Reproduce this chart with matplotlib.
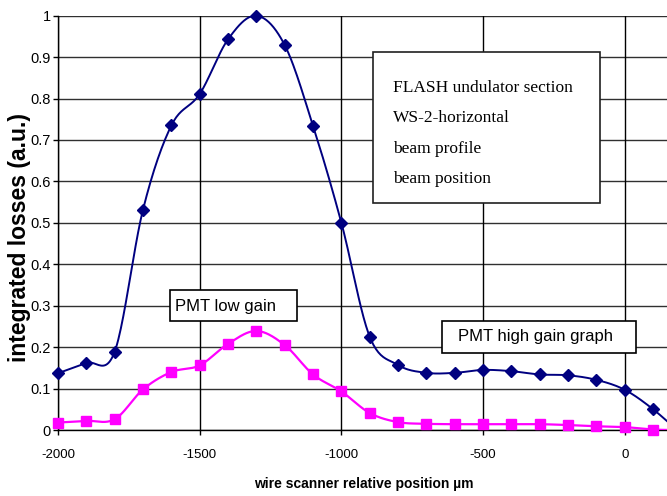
import numpy as np
import matplotlib
matplotlib.use("Agg")
import matplotlib.pyplot as plt
from matplotlib.patches import Rectangle

# scan positions (µm) and integrated losses (a.u.)
position = [-2000, -1900, -1800, -1700, -1600, -1500, -1400, -1300, -1200, -1100,
            -1000, -900, -800, -700, -600, -500, -400, -300, -200, -100, 0, 100, 200]
high_gain = [0.137, 0.162, 0.189, 0.532, 0.735, 0.811, 0.943, 1.000, 0.929, 0.734,
             0.500, 0.225, 0.157, 0.138, 0.138, 0.145, 0.142, 0.134, 0.132, 0.121,
             0.097, 0.050, -0.010]
low_gain = [0.018, 0.022, 0.026, 0.098, 0.140, 0.156, 0.208, 0.239, 0.205, 0.134,
            0.093, 0.041, 0.019, 0.015, 0.014, 0.014, 0.014, 0.014, 0.012, 0.009,
            0.007, 0.001, 0.000]

x_ticks = [-2000, -1500, -1000, -500, 0]
x_tick_labels = ["-2000", "-1500", "-1000", "-500", "0"]
y_ticks = [0, 0.1, 0.2, 0.3, 0.4, 0.5, 0.6, 0.7, 0.8, 0.9, 1.0]
y_tick_labels = ["0", "0.1", "0.2", "0.3", "0.4", "0.5", "0.6", "0.7", "0.8", "0.9", "1"]

info_lines = ["FLASH undulator section", "WS-2-horizontal", "beam profile", "beam position"]

W, H = 667, 496
sans = ["Liberation Sans"]


def smooth(xs, ys, n=24):
    """Cardinal (Excel-like) Bezier smoothing through the given points."""
    xs = np.asarray(xs, float)
    ys = np.asarray(ys, float)
    px = np.concatenate([[xs[0]], xs, [xs[-1]]])
    py = np.concatenate([[ys[0]], ys, [ys[-1]]])
    t = np.linspace(0, 1, n)[:, None]
    out_x, out_y = [], []
    for i in range(1, len(px) - 2):
        p0 = np.array([px[i], py[i]])
        p3 = np.array([px[i + 1], py[i + 1]])
        c1 = p0 + (p3 - np.array([px[i - 1], py[i - 1]])) / 6.0
        c2 = p3 - (np.array([px[i + 2], py[i + 2]]) - p0) / 6.0
        seg = ((1 - t) ** 3) * p0 + 3 * ((1 - t) ** 2) * t * c1 + 3 * (1 - t) * t ** 2 * c2 + t ** 3 * p3
        out_x.append(seg[:, 0])
        out_y.append(seg[:, 1])
    return np.concatenate(out_x), np.concatenate(out_y)


def fx(px):
    return px / W


def fy(py):
    return 1 - py / H


fig = plt.figure(figsize=(W / 100, H / 100), dpi=100)
ax = fig.add_axes([fx(58), fy(430), 609.3 / W, 414.3 / H])

ax.set_xlim(-2000, 150)
ax.set_ylim(0, 1)

for yv in y_ticks:
    ax.axhline(yv, color="#303030", lw=1.0, zorder=1)
for xv in x_ticks:
    ax.axvline(xv, color="black", lw=1.0, zorder=1)

navy = "#000080"
magenta = "#FF00FF"

sx, sy = smooth(position, high_gain)
ax.plot(sx, sy, color=navy, lw=1.4, zorder=3)
sx, sy = smooth(position, low_gain)
ax.plot(sx, sy, color=magenta, lw=1.6, zorder=3)

ax.plot(position, high_gain, ls="none", marker="D", ms=6, color=navy,
        zorder=4, clip_on=False)
ax.plot(position, low_gain, ls="none", marker="s", ms=7, color=magenta,
        zorder=4, clip_on=False)

for side in ["top", "right"]:
    ax.spines[side].set_visible(False)
ax.spines["left"].set_color("black")
ax.spines["bottom"].set_color("black")
ax.spines["left"].set_linewidth(1.0)
ax.spines["bottom"].set_linewidth(1.0)

ax.set_xticks(x_ticks)
ax.set_xticklabels(x_tick_labels, family=sans, fontsize=9.5)
ax.set_yticks(y_ticks)
ax.set_yticklabels(y_tick_labels, family=sans, fontsize=10.5)
ax.tick_params(axis="x", direction="out", length=3.5, width=1, pad=10, colors="black")
ax.tick_params(axis="y", direction="out", length=3.5, width=1, pad=1.5, colors="black")

fig.text(fx(364), fy(484), "wire scanner relative position µm", ha="center", va="center",
         family=sans, fontsize=10, fontweight="bold")
fig.text(fx(20), fy(238), "integrated losses (a.u.)", ha="center", va="center",
         rotation=90, family=sans, fontsize=16.5, fontweight="bold")

# annotation boxes
def box(x0, y0, x1, y1, ec="black"):
    fig.patches.append(Rectangle((fx(x0), fy(y1)), (x1 - x0) / W, (y1 - y0) / H,
                                 transform=fig.transFigure, facecolor="white",
                                 edgecolor=ec, lw=1.2, zorder=5))


box(373, 52, 600, 203, ec="#202020")
for i, line in enumerate(info_lines):
    fig.text(fx(393), fy(88 + 30.3 * i), line, ha="left", va="center",
             family=["Liberation Serif"], fontsize=12.5, zorder=6)

box(170, 290, 297, 321)
fig.text(fx(175), fy(306), "PMT low gain", ha="left", va="center",
         family=sans, fontsize=12, zorder=6)

box(442, 321, 636, 353)
fig.text(fx(458), fy(337), "PMT high gain graph", ha="left", va="center",
         family=sans, fontsize=12, zorder=6)

fig.savefig("out.png", dpi=100)
